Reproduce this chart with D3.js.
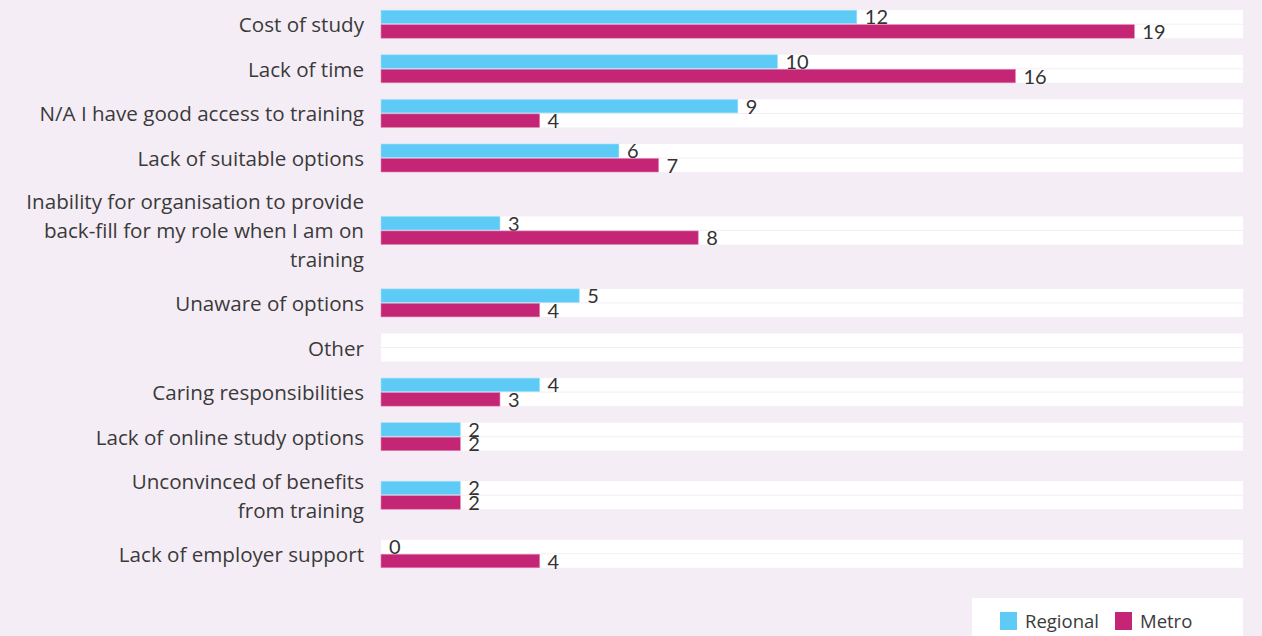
<!DOCTYPE html>
<html>
<head>
<meta charset="utf-8">
<script src="https://cdn.jsdelivr.net/npm/d3@7/dist/d3.min.js"></script>
<style>
  html, body { margin: 0; padding: 0; background: #f5edf5; }
  svg { display: block; }
  .cat { font-family: "Open Sans", sans-serif; font-size: 20.6px; fill: #3a3a3a; }
  .val { font-family: Lato, sans-serif; font-size: 20px; fill: #333; }
  .leg { font-family: "Open Sans", sans-serif; font-size: 18.5px; fill: #3a3a3a; }
</style>
</head>
<body>
<div id="chart"></div>
<script>
// chart data
var categories = [
  "Cost of study",
  "Lack of time",
  "N/A I have good access to training",
  "Lack of suitable options",
  "Inability for organisation to provide\nback-fill for my role when I am on\ntraining",
  "Unaware of options",
  "Other",
  "Caring responsibilities",
  "Lack of online study options",
  "Unconvinced of benefits\nfrom training",
  "Lack of employer support"
];
var regional = [12, 10, 9, 6, 3, 5, null, 4, 2, 2, 0];
var metro = [19, 16, 4, 7, 8, 4, null, 3, 2, 2, 4];
var seriesNames = ["Regional", "Metro"];
var seriesColors = ["#5ecbf6", "#c42574"];

var W = 1262, H = 636;
var left = 381, right = 1243;
var bandH = 28, barH = 13.5, gap = 1;
var lineH = 29;

var svg = d3.select("#chart").append("svg").attr("width", W).attr("height", H);

var x = d3.scaleLinear().domain([0, 21.74]).range([left, right]);

// rows grow with the number of label lines
var rows = categories.map(function(c, i) {
  var lines = c.split("\n");
  return { name: c, lines: lines, h: 16.75 + 27.85 * lines.length, r: regional[i], m: metro[i] };
});
var yPos = 1.9;
rows.forEach(function(d) {
  d.cy = yPos + d.h / 2;
  d.top = d.cy - bandH / 2;
  yPos += d.h;
});

var g = svg.selectAll("g.row").data(rows).enter().append("g").attr("class", "row");

// white tracks
[0, 1].forEach(function(k) {
  g.append("rect")
    .attr("x", left).attr("width", right - left)
    .attr("y", function(d) { return d.top + k * (barH + gap); })
    .attr("height", barH)
    .attr("fill", "#fff");
});

// bars + value labels
[0, 1].forEach(function(k) {
  var key = k === 0 ? "r" : "m";
  g.filter(function(d) { return d[key] != null && d[key] > 0; })
    .append("rect")
    .attr("x", x(0))
    .attr("y", function(d) { return d.top + k * (barH + gap); })
    .attr("width", function(d) { return x(d[key]) - x(0); })
    .attr("height", barH)
    .attr("fill", seriesColors[k])
    .attr("stroke", k === 0 ? "#9fe0fa" : "#e07fb0")
    .attr("stroke-width", 0.6);

  g.filter(function(d) { return d[key] != null; })
    .append("text")
    .attr("class", "val")
    .attr("x", function(d) { return x(d[key]) + 8; })
    .attr("y", function(d) { return d.top + k * (barH + gap) + barH / 2 + 7.5; })
    .text(function(d) { return d[key]; });
});

// category labels
g.each(function(d) {
  var t = d3.select(this).append("text")
    .attr("class", "cat")
    .attr("text-anchor", "end")
    .attr("x", 364);
  var n = d.lines.length;
  d.lines.forEach(function(line, j) {
    t.append("tspan")
      .attr("x", 364)
      .attr("y", d.cy + 1 + (j - (n - 1) / 2) * lineH + 7)
      .text(line);
  });
});

// legend
var lg = svg.append("g");
lg.append("rect").attr("x", 972).attr("y", 598).attr("width", 271).attr("height", 40).attr("fill", "#fff");
var items = [{ x: 1000 }, { x: 1115 }];
items.forEach(function(it, i) {
  lg.append("rect").attr("x", it.x).attr("y", 612).attr("width", 17).attr("height", 18)
    .attr("fill", seriesColors[i]);
  lg.append("text").attr("class", "leg").attr("x", it.x + 25).attr("y", 628).text(seriesNames[i]);
});
</script>
</body>
</html>
